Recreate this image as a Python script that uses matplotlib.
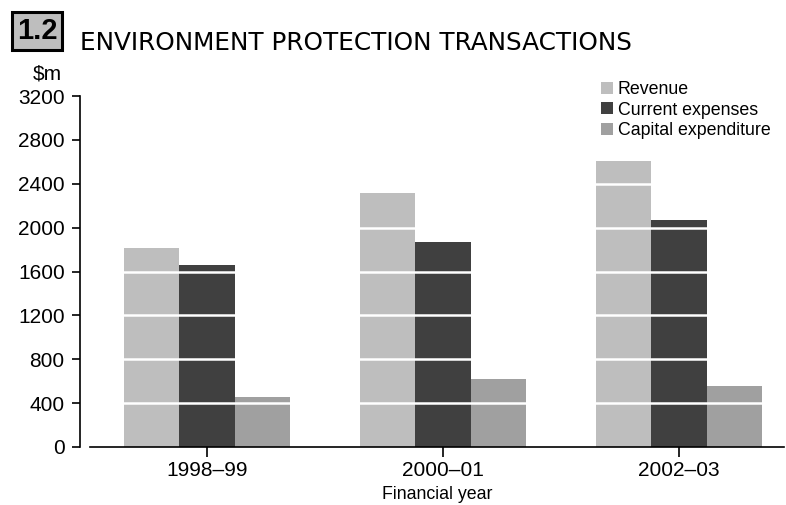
import matplotlib
matplotlib.use("Agg")
import matplotlib.pyplot as plt
import numpy as np

plt.rcParams['font.family'] = ['Liberation Sans', 'DejaVu Sans']

categories = ["1998\u201399", "2000\u201301", "2002\u201303"]
series_names = ["Revenue", "Current expenses", "Capital expenditure"]
revenue = [1810, 2313, 2604]
current_expenses = [1656, 1866, 2074]
capital_expenditure = [453, 617, 553]
yticks = [0, 400, 800, 1200, 1600, 2000, 2400, 2800, 3200]
colors = ["#bebebe", "#404040", "#a0a0a0"]

W, H = 786, 505
fig = plt.figure(figsize=(W / 100, H / 100), dpi=100)
ax = fig.add_axes([90 / W, 58 / H, 694 / W, 351 / H])

x = np.arange(len(categories))
bw = 0.235
for i, (vals, name) in enumerate(zip([revenue, current_expenses, capital_expenditure], series_names)):
    ax.bar(x + (i - 1) * bw, vals, width=bw, color=colors[i], label=name, zorder=2, linewidth=0)

for t in yticks[1:-1]:
    ax.axhline(t, color="white", linewidth=1.8, zorder=3)

ax.set_ylim(0, 3200)
ax.set_xlim(-0.496, 2.445)
ax.set_yticks(yticks)
ax.set_yticklabels([str(v) for v in yticks])
ax.set_xticks(x)
ax.set_xticklabels(categories)
ax.tick_params(axis='y', direction='out', length=6, width=1.2, pad=5, labelsize=15)
ax.tick_params(axis='x', direction='out', length=7, width=1.2, pad=3, labelsize=15)
for s in ["top", "right"]:
    ax.spines[s].set_visible(False)
ax.spines["left"].set_position(("outward", 7.2))
ax.spines["left"].set_linewidth(1.2)
ax.spines["bottom"].set_linewidth(1.2)
ax.set_xlabel("Financial year", fontsize=12.8, labelpad=4.5)

leg = ax.legend(loc="upper left", bbox_to_anchor=(601 / W, 1 - 81 / H), bbox_transform=fig.transFigure,
                frameon=False, fontsize=12.8, handlelength=0.65, handleheight=0.65, handletextpad=0.3,
                labelspacing=0.2, borderpad=0, borderaxespad=0)

fig.text(33 / W, 1 - 74 / H, "$m", fontsize=15, va="center", ha="left")
fig.text(37 / W, 1 - 31 / H, "1.2", fontsize=21, fontweight="bold", va="center", ha="center",
         bbox=dict(boxstyle="square,pad=0.17", facecolor="#bebebe", edgecolor="black", linewidth=2.2))

title = fig.text(80 / W, 1 - 50 / H, "ENVIRONMENT PROTECTION TRANSACTIONS", fontsize=16,
                 va="baseline", ha="left", family=["DejaVu Sans"])
r = fig.canvas.get_renderer()
w = title.get_window_extent(r).width
title.set_fontsize(16 * 553 / w)

fig.savefig("out.png", dpi=100)
